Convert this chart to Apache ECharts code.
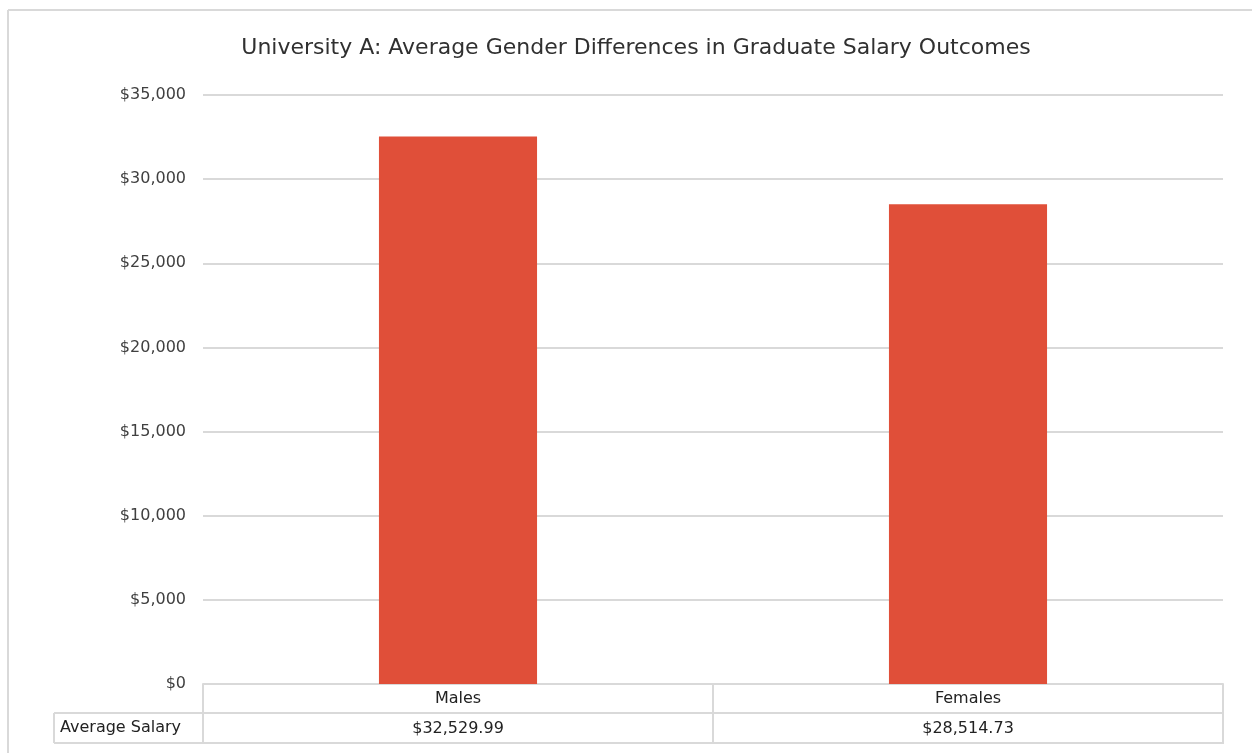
<!DOCTYPE html>
<html>
<head>
<meta charset="utf-8">
<script src="https://cdn.jsdelivr.net/npm/echarts@6/dist/echarts.min.js"></script>
<style>
html,body{margin:0;padding:0;background:#fff;}
#chart{width:1252px;height:753px;}
</style>
</head>
<body>
<div id="chart"></div>
<script>
const titleText = 'University A: Average Gender Differences in Graduate Salary Outcomes';
const categories = ['Males', 'Females'];
const salaries = [32529.99, 28514.73];
const seriesName = 'Average Salary';
const yTicks = [0, 5000, 10000, 15000, 20000, 25000, 30000, 35000];

const FONT = '"DejaVu Sans"';
const TXT = '#404040';
const LINE = '#d9d9d9';

function money(v, dec) {
  return '$' + v.toLocaleString('en-US', {minimumFractionDigits: dec, maximumFractionDigits: dec});
}

const chart = echarts.init(document.getElementById('chart'));
const gridLeft = 203, gridRight = 29, gridTop = 95, gridBottom = 69;
const W = 1252, H = 753;
const axisY = H - gridBottom;

chart.setOption({
  animation: false,
  title: {
    text: titleText, left: 631, top: 32, textAlign: 'center',
    textStyle: {fontFamily: FONT, fontSize: 22, fontWeight: 'normal', color: '#303030'}
  },
  grid: {left: gridLeft, right: gridRight, top: gridTop, bottom: gridBottom, containLabel: false},
  xAxis: [{
    type: 'category', data: categories, position: 'bottom',
    axisLine: {show: true, lineStyle: {color: LINE, width: 2}},
    axisTick: {show: true, length: 60, lineStyle: {color: LINE, width: 2}},
    axisLabel: {margin: 7, fontFamily: FONT, fontSize: 16, color: '#222'}
  }, {
    type: 'category', data: salaries.map(v => money(v, 2)), position: 'bottom', offset: 30,
    axisLine: {show: false}, axisTick: {show: false},
    axisLabel: {margin: 7, fontFamily: FONT, fontSize: 16, color: '#222'}
  }],
  yAxis: {
    type: 'value', min: yTicks[0], max: yTicks[yTicks.length - 1], interval: 5000,
    axisLine: {show: false}, axisTick: {show: false},
    splitLine: {lineStyle: {color: LINE, width: 2}},
    axisLabel: {margin: 17, fontFamily: FONT, fontSize: 16, color: TXT, formatter: v => money(v, 0)}
  },
  series: [{
    name: seriesName, type: 'bar', data: salaries, barWidth: '31%',
    itemStyle: {color: '#E04F39'}
  }],
  graphic: [
    {type: 'line', shape: {x1: 8, y1: 10, x2: W, y2: 10}, style: {stroke: LINE, lineWidth: 2}},
    {type: 'line', shape: {x1: 8, y1: 10, x2: 8, y2: H}, style: {stroke: LINE, lineWidth: 2}},
    {type: 'line', shape: {x1: 54, y1: axisY + 29, x2: W - gridRight, y2: axisY + 29}, style: {stroke: LINE, lineWidth: 2}},
    {type: 'line', shape: {x1: 54, y1: axisY + 59, x2: W - gridRight, y2: axisY + 59}, style: {stroke: LINE, lineWidth: 2}},
    {type: 'line', shape: {x1: 54, y1: axisY + 29, x2: 54, y2: axisY + 59}, style: {stroke: LINE, lineWidth: 2}},
    {type: 'text', left: 60, top: axisY + 36, style: {text: seriesName, fontFamily: FONT, fontSize: 16, fill: '#222'}}
  ]
});
</script>
</body>
</html>
